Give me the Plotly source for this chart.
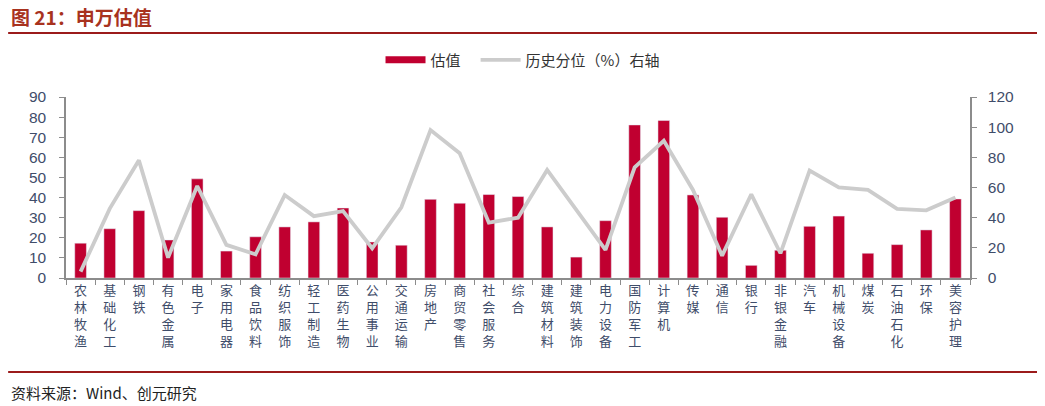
import plotly.graph_objects as go

categories = ["农林牧渔", "基础化工", "钢铁", "有色金属", "电子", "家用电器", "食品饮料", "纺织服饰",
              "轻工制造", "医药生物", "公用事业", "交通运输", "房地产", "商贸零售", "社会服务", "综合",
              "建筑材料", "建筑装饰", "电力设备", "国防军工", "计算机", "传媒", "通信", "银行",
              "非银金融", "汽车", "机械设备", "煤炭", "石油石化", "环保", "美容护理"]
valuation = [17.3, 24.5, 33.5, 18.9, 49.3, 13.4, 20.5, 25.4, 27.9, 34.8, 17.9, 16.3, 39.1, 37.2,
             41.5, 40.5, 25.4, 10.4, 28.5, 76.1, 78.3, 41.3, 30.2, 6.3, 13.8, 25.7, 30.8, 12.3,
             16.6, 23.9, 39.3]
percentile = [4.2, 46, 78, 13.5, 61, 22, 15.7, 55, 41, 44.4, 19.7, 46.9, 98.1, 82.7, 36.7, 40,
              71.6, 45, 18.6, 73.4, 91, 58.4, 14.8, 55.5, 16.4, 71.2, 60.1, 58.4, 45.8, 44.9, 53.3]
left_ticks = [0, 10, 20, 30, 40, 50, 60, 70, 80, 90]
right_ticks = [0, 20, 40, 60, 80, 100, 120]

BAR_COLOR = "#C00030"
LINE_COLOR = "#CCCCCC"
TICK_COLOR = "#3F4D6A"
AXIS_COLOR = "#8C8C8C"
DARK_RED = "#9B1B1B"
CJK = "Noto Sans CJK SC"
NUM = "Liberation Sans"

labels = ["<br>".join(list(c)) for c in categories]

fig = go.Figure()
fig.add_trace(go.Bar(x=labels, y=valuation, name="估值", marker=dict(color=BAR_COLOR),
                     width=0.4, showlegend=False, yaxis="y"))
# legend proxy for bar (wide red swatch)
fig.add_trace(go.Scatter(x=[None], y=[None], mode="lines", name="估值\u00a0\u00a0\u00a0",
                         line=dict(color=BAR_COLOR, width=7), yaxis="y"))
fig.add_trace(go.Scatter(x=labels, y=percentile, mode="lines", name="历史分位（%）右轴",
                         line=dict(color=LINE_COLOR, width=3.8), yaxis="y2"))

fig.update_layout(
    width=1037, height=398,
    margin=dict(l=58, r=75, t=89, b=128, pad=0),
    paper_bgcolor="white", plot_bgcolor="white",
    font=dict(family=CJK, color=TICK_COLOR),
    legend=dict(orientation="h", x=0.505, xanchor="center", y=1.204, yanchor="middle",
                font=dict(family=CJK, size=15, color="#333333"), itemwidth=40,
                traceorder="normal", bgcolor="rgba(0,0,0,0)"),
    xaxis=dict(showline=True, linecolor=AXIS_COLOR, linewidth=1.5, ticks="outside",
               tickson="boundaries", ticklen=5, tickcolor=AXIS_COLOR, showgrid=False,
               tickfont=dict(family=CJK, size=13, color=TICK_COLOR), tickangle=0,
               range=[-0.5, len(categories) - 0.5]),
    yaxis=dict(range=[0, 90], tickvals=left_ticks, showline=True, linecolor=AXIS_COLOR,
               linewidth=1.5, ticks="outside", ticklen=5, tickcolor=AXIS_COLOR, showgrid=False,
               zeroline=False, ticklabelstandoff=10,
               tickfont=dict(family=NUM, size=15.5, color=TICK_COLOR)),
    yaxis2=dict(range=[0, 120], tickvals=right_ticks, overlaying="y", side="right",
                showline=True, linecolor=AXIS_COLOR, linewidth=1.5, ticks="outside", ticklen=5,
                tickcolor=AXIS_COLOR, showgrid=False, zeroline=False, ticklabelstandoff=8,
                tickfont=dict(family=NUM, size=15.5, color=TICK_COLOR)),
    bargap=0.6,
)

fig.add_annotation(text="<b>图 21：申万估值</b>", xref="paper", yref="paper",
                   x=-0.063, y=1.442, xanchor="left", yanchor="middle", showarrow=False,
                   font=dict(family=CJK, size=19, color="#A8321E"))
fig.add_annotation(text="资料来源：Wind、创元研究", xref="paper", yref="paper",
                   x=-0.063, y=-0.630, xanchor="left", yanchor="middle", showarrow=False,
                   font=dict(family=CJK, size=15, color="#222222"))
fig.add_shape(type="line", xref="paper", yref="paper", x0=-0.064, x1=1.077, y0=1.354, y1=1.354,
              line=dict(color=DARK_RED, width=2))
fig.add_shape(type="line", xref="paper", yref="paper", x0=-0.064, x1=1.077, y0=-0.519, y1=-0.519,
              line=dict(color=DARK_RED, width=2))

fig.write_html("out.html")
